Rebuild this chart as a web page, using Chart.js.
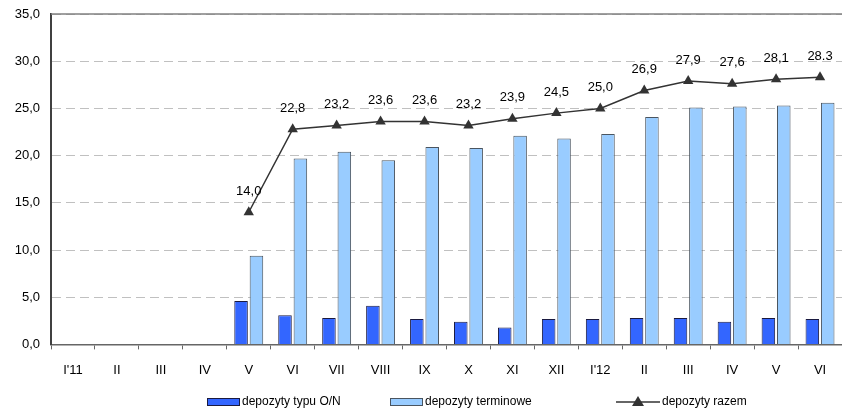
<!DOCTYPE html>
<html>
<head>
<meta charset="utf-8">
<script src="https://cdn.jsdelivr.net/npm/chart.js@4/dist/chart.umd.min.js"></script>
<style>
  body { margin: 0; background: #fff; }
  canvas { display: block; }
</style>
</head>
<body>
<canvas id="depChart" width="842" height="414"></canvas>
<script>
// miesiace
const categories = ["I'11", 'II', 'III', 'IV', 'V', 'VI', 'VII', 'VIII', 'IX', 'X', 'XI', 'XII', "I'12", 'II', 'III', 'IV', 'V', 'VI'];
const onValues = [null, null, null, null, 4.6, 3.1, 2.8, 4.1, 2.7, 2.4, 1.8, 2.7, 2.7, 2.8, 2.8, 2.4, 2.8, 2.7];
const terminValues = [null, null, null, null, 9.4, 19.7, 20.4, 19.5, 20.9, 20.8, 22.1, 21.8, 22.3, 24.1, 25.1, 25.2, 25.3, 25.6];
const totalValues = [null, null, null, null, 14.0, 22.8, 23.2, 23.6, 23.6, 23.2, 23.9, 24.5, 25.0, 26.9, 27.9, 27.6, 28.1, 28.3];
const totalLabels = ['', '', '', '', '14,0', '22,8', '23,2', '23,6', '23,6', '23,2', '23,9', '24,5', '25,0', '26,9', '27,9', '27,6', '28,1', '28.3'];
const yTicks = [0, 5, 10, 15, 20, 25, 30, 35];

const FONT = 'Liberation Sans, Arial, sans-serif';

// etykiety nad punktami linii
const pointLabels = {
    id: 'pointLabels',
    afterDatasetsDraw(chart) {
        const meta = chart.getDatasetMeta(2);
        const ctx = chart.ctx;
        ctx.save();
        ctx.font = '13px ' + FONT;
        ctx.fillStyle = '#000';
        ctx.textAlign = 'center';
        ctx.textBaseline = 'middle';
        meta.data.forEach((pt, i) => {
            if (totalValues[i] === null) return;
            ctx.fillText(totalLabels[i], pt.x, pt.y - 21);
        });
        ctx.restore();
    }
};

// gorna ramka + legenda
const frameAndLegend = {
    id: 'frameAndLegend',
    afterDraw(chart) {
        const ctx = chart.ctx;
        const area = chart.chartArea;
        ctx.save();
        ctx.strokeStyle = '#808080';
        ctx.lineWidth = 1.5;
        ctx.beginPath();
        ctx.moveTo(area.left, area.top);
        ctx.lineTo(area.right, area.top);
        ctx.stroke();

        const y = 402;
        const items = [
            { x: 207, ds: chart.data.datasets[0] },
            { x: 390, ds: chart.data.datasets[1] },
            { x: 616, ds: chart.data.datasets[2] }
        ];
        ctx.font = '12px ' + FONT;
        ctx.textBaseline = 'middle';
        ctx.textAlign = 'left';
        items.forEach(it => {
            let tx;
            if (it.ds.type === 'line') {
                ctx.strokeStyle = it.ds.borderColor;
                ctx.lineWidth = 1.5;
                ctx.beginPath();
                ctx.moveTo(it.x, y);
                ctx.lineTo(it.x + 44, y);
                ctx.stroke();
                ctx.fillStyle = it.ds.pointBackgroundColor;
                ctx.beginPath();
                ctx.moveTo(it.x + 22, y - 6);
                ctx.lineTo(it.x + 28, y + 4);
                ctx.lineTo(it.x + 16, y + 4);
                ctx.closePath();
                ctx.fill();
                tx = it.x + 46;
            } else {
                ctx.fillStyle = it.ds.backgroundColor;
                ctx.fillRect(it.x, y - 4, 33, 8);
                ctx.strokeStyle = it.ds.borderColor;
                ctx.lineWidth = 1;
                ctx.strokeRect(it.x + 0.5, y - 3.5, 32, 7);
                tx = it.x + 35;
            }
            ctx.fillStyle = '#000';
            ctx.fillText(it.ds.label, tx, y);
        });
        ctx.restore();
    }
};

new Chart(document.getElementById('depChart'), {
    data: {
        labels: categories,
        datasets: [
            {
                type: 'bar',
                label: 'depozyty typu O/N',
                data: onValues,
                backgroundColor: '#3366ff',
                borderColor: '#1a1a40',
                borderWidth: 1,
                categoryPercentage: 0.7,
                barPercentage: 0.88,
                order: 1
            },
            {
                type: 'bar',
                label: 'depozyty terminowe',
                data: terminValues,
                backgroundColor: '#99ccff',
                borderColor: '#4a5560',
                borderWidth: 1,
                categoryPercentage: 0.7,
                barPercentage: 0.88,
                order: 2
            },
            {
                type: 'line',
                label: 'depozyty razem',
                data: totalValues,
                borderColor: '#333333',
                borderWidth: 1.5,
                pointStyle: 'triangle',
                pointRadius: 6,
                pointBackgroundColor: '#333333',
                pointBorderColor: '#333333',
                pointBorderWidth: 0,
                tension: 0,
                spanGaps: false,
                order: 0
            }
        ]
    },
    options: {
        responsive: false,
        animation: false,
        layout: { autoPadding: false, padding: { top: 14, right: 0, bottom: 23, left: 0 } },
        plugins: {
            legend: { display: false },
            tooltip: { enabled: false }
        },
        scales: {
            x: {
                offset: true,
                afterFit(scale) {
                    scale.paddingLeft = 0;
                    scale.paddingRight = 0;
                },
                grid: {
                    offset: true,
                    drawOnChartArea: false,
                    drawTicks: true,
                    tickLength: 5,
                    color: '#666'
                },
                border: { color: '#666', width: 1.5 },
                ticks: {
                    color: '#000',
                    padding: 13,
                    font: { family: FONT, size: 13 }
                }
            },
            y: {
                min: 0,
                max: 35,
                afterBuildTicks(scale) {
                    scale.ticks = yTicks.map(v => ({ value: v }));
                },
                afterFit(scale) {
                    scale.width = 51;
                    scale.paddingTop = 0;
                    scale.paddingBottom = 0;
                },
                grid: {
                    color: '#c0c0c0',
                    lineWidth: 1,
                    drawTicks: false
                },
                border: { color: '#404040', width: 2, dash: [9, 5] },
                ticks: {
                    color: '#000',
                    padding: 11,
                    font: { family: FONT, size: 13 },
                    callback: v => v.toFixed(1).replace('.', ',')
                }
            }
        }
    },
    plugins: [pointLabels, frameAndLegend]
});
</script>
</body>
</html>
